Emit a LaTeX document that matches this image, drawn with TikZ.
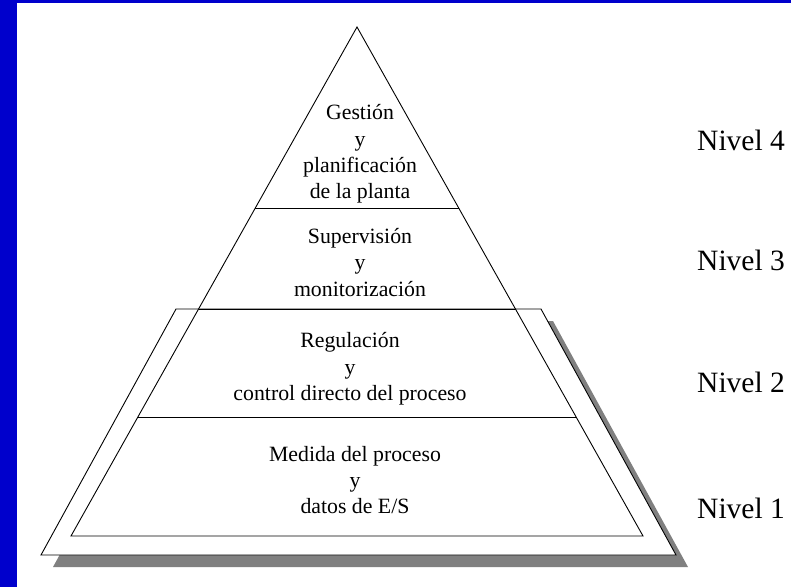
\documentclass[tikz,border=0pt]{standalone}
\usepackage{fontspec}
\setmainfont{Liberation Serif}
\definecolor{frameblue}{RGB}{0,0,204}
\definecolor{shadowgray}{RGB}{128,128,128}
\tikzset{
  edge/.style={draw=black, line width=0.9pt, line join=miter},
  layertext/.style={align=center, inner sep=0pt, font=\fontsize{21.8}{26.3}\selectfont},
  levellabel/.style={anchor=west, inner sep=0pt, font=\fontsize{29.5}{32}\selectfont}
}
\begin{document}
\begin{tikzpicture}[x=1pt,y=-1pt]
\useasboundingbox (0,0) rectangle (791,587);
% frame
\fill[frameblue] (0,0) rectangle (17,587);
\fill[frameblue] (0,0) rectangle (791,3);
% coordinates
\coordinate (apex) at (357,27);
\coordinate (tbl) at (71,536);
\coordinate (tbr) at (643,536);
\coordinate (l1a) at (255.3,208);
\coordinate (l1b) at (458.7,208);
\coordinate (l2a) at (198.5,309);
\coordinate (l2b) at (515.5,309);
\coordinate (l3a) at (138,417);
\coordinate (l3b) at (576,417);
\coordinate (otl) at (176,309);
\coordinate (otr) at (541,309);
\coordinate (obr) at (676,555);
\coordinate (obl) at (41,555);
% shadow
\fill[shadowgray] ([shift={(12,12)}]otl) -- ([shift={(12,12)}]otr) -- ([shift={(12,12)}]obr) -- ([shift={(12,12)}]obl) -- cycle;
% outer trapezoid
\filldraw[edge, fill=white] (otl) -- (otr) -- (obr) -- (obl) -- cycle;
% inner triangle
\draw[edge] (apex) -- (tbl) -- (tbr) -- cycle;
\draw[edge] (l1a) -- (l1b);
\draw[edge] (l2a) -- (l2b);
\draw[edge] (l3a) -- (l3b);
% layer texts
\node[layertext] (t4) at (360,154) {Gestión\\y\\planificación\\de la planta};
\node[layertext] (t3) at (360,262.5) {Supervisión\\y\\monitorización};
\node[layertext] (t2) at (350,369) {Regulación\\y\\control directo del proceso};
\node[layertext] (t1) at (355,480) {Medida del proceso\\y\\datos de E/S};
% level labels
\node[levellabel] (n4) at (697,140) {Nivel 4};
\node[levellabel] (n3) at (697,260) {Nivel 3};
\node[levellabel] (n2) at (697,382) {Nivel 2};
\node[levellabel] (n1) at (697,508) {Nivel 1};
\end{tikzpicture}
\end{document}
